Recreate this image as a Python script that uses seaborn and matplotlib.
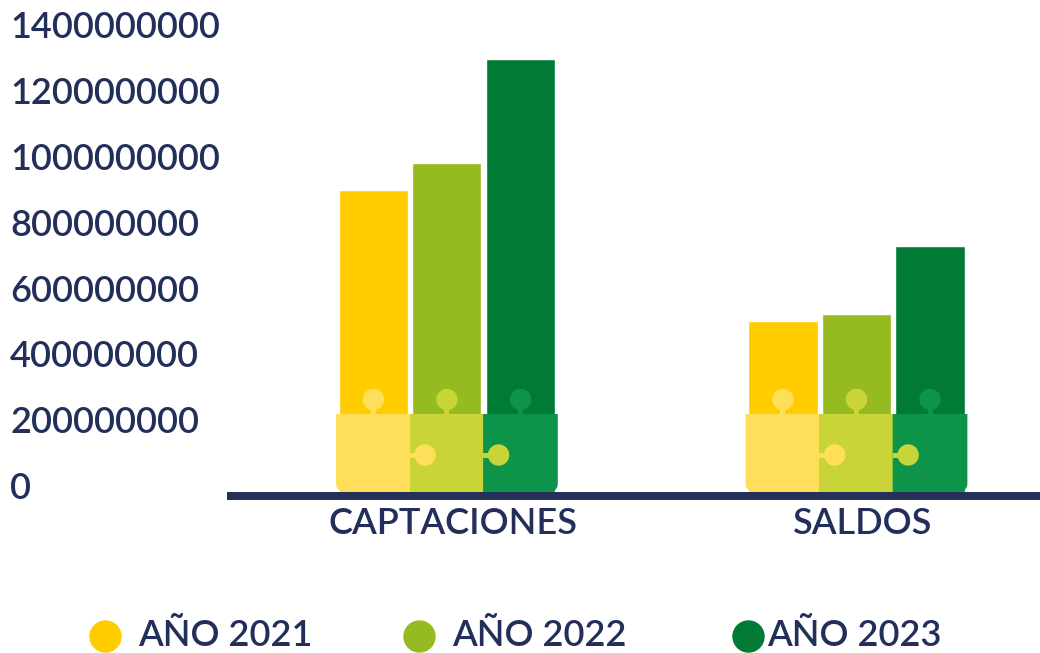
import numpy as np
import pandas as pd
import matplotlib
matplotlib.use("Agg")
import matplotlib.pyplot as plt
import seaborn as sns
from matplotlib.transforms import ScaledTranslation
from matplotlib.patches import Polygon
from matplotlib.lines import Line2D
from matplotlib.ticker import FuncFormatter

# ---------------- data ----------------
categories = ["CAPTACIONES", "SALDOS"]
years = ["AÑO 2021", "AÑO 2022", "AÑO 2023"]
values_2021 = [918e6, 520e6]
values_2022 = [1000e6, 541e6]
values_2023 = [1316e6, 748e6]
y_ticks = [0, 200e6, 400e6, 600e6, 800e6, 1000e6, 1200e6, 1400e6]

# ---------------- style ----------------
bar_colors = ["#FFCC00", "#95BB20", "#007A35"]
piece_colors = ["#FFDF5A", "#C8D438", "#0E944A"]
TEXT = "#232F5B"
AXIS = "#263159"
FONT = "Lato"
WEIGHT = "semibold"

df = pd.DataFrame({
    "cat": categories * 3,
    "year": [years[0]] * 2 + [years[1]] * 2 + [years[2]] * 2,
    "value": values_2021 + values_2022 + values_2023,
})

sns.set_theme(style="white")
plt.rcParams["font.family"] = [FONT, "DejaVu Sans"]
plt.rcParams["font.weight"] = WEIGHT

W, H = 1040, 653
fig = plt.figure(figsize=(W / 100, H / 100), dpi=100)
base_px = 492
top_px = 31.4
ax = fig.add_axes([227 / W, (H - base_px) / H, 1 - 227 / W, (base_px - top_px) / H])

GAP = 0.06
WIDTH = 0.5385
sns.barplot(data=df, x="cat", y="value", hue="year", hue_order=years,
            order=categories, palette=bar_colors, width=WIDTH, gap=GAP,
            saturation=1, legend=False, ax=ax, zorder=2)

ax.set_xlim(-0.537, 1.448)
ax.set_ylim(0, y_ticks[-1])
ax.set_xlabel("")
ax.set_ylabel("")
for s in ["left", "top", "right"]:
    ax.spines[s].set_visible(False)
ax.spines["bottom"].set_color(AXIS)
ax.spines["bottom"].set_linewidth(8 * 0.72)
ax.spines["bottom"].set_position(("outward", 4 * 0.72))
ax.spines["bottom"].set_capstyle("butt")

ax.set_yticks(y_ticks)
ax.yaxis.set_major_formatter(FuncFormatter(lambda v, p: f"{v:.0f}"))
ax.tick_params(axis="y", length=0, pad=217 * 0.72, labelsize=26, labelcolor=TEXT)
for lab in ax.get_yticklabels():
    lab.set_ha("left")
    lab.set_va("center")
    lab.set_fontweight(WEIGHT)
    lab.set_transform(lab.get_transform() + ScaledTranslation(0, 3.5 / 100, fig.dpi_scale_trans))

ax.tick_params(axis="x", length=0, pad=8, labelsize=26, labelcolor=TEXT)
for lab in ax.get_xticklabels():
    lab.set_fontweight(WEIGHT)
    lab.set_transform(lab.get_transform() + ScaledTranslation(6 / 100, 0, fig.dpi_scale_trans))

# ---------------- puzzle decoration (derived from the bars) ----------------
to_data = ax.transData.inverted()


def add_px_poly(verts, color, z):
    v = to_data.transform(np.asarray(verts))
    ax.add_patch(Polygon(v, closed=True, facecolor=color, edgecolor="none", zorder=z))


def circle_px(cx, cy, r, n=60):
    t = np.linspace(0, 2 * np.pi, n, endpoint=False)
    return np.column_stack([cx + r * np.cos(t), cy + r * np.sin(t)])


PIECE_H = 78
R_CORNER = 8
R_KNOB = 10.7
n_h = len(ax.containers)
for i, cont in enumerate(ax.containers):
    for bar in cont:
        cx = bar.get_x() + bar.get_width() / 2
        X, Y0 = ax.transData.transform((cx, 0))
        slot = ax.transData.transform((bar.get_width() / (1 - GAP), 0))[0] - ax.transData.transform((0, 0))[0]
        pw = slot * 1.016
        L, R = X - pw / 2, X + pw / 2
        B, T = Y0, Y0 + PIECE_H
        verts = [(L, T), (R, T)]
        if i == n_h - 1:
            for a in np.linspace(0, -np.pi / 2, 10):
                verts.append((R - R_CORNER + R_CORNER * np.cos(a), B + R_CORNER + R_CORNER * np.sin(a)))
        else:
            verts.append((R, B))
        if i == 0:
            for a in np.linspace(-np.pi / 2, -np.pi, 10):
                verts.append((L + R_CORNER + R_CORNER * np.cos(a), B + R_CORNER + R_CORNER * np.sin(a)))
        else:
            verts.append((L, B))
        col = piece_colors[i]
        add_px_poly(verts, col, 3)
        # top knob
        add_px_poly(circle_px(X, T + 14.5, R_KNOB), col, 4)
        add_px_poly([(X - 2.5, T - 1), (X + 2.5, T - 1), (X + 2.5, T + 6), (X - 2.5, T + 6)], col, 4)
        # side knob
        if i < n_h - 1:
            add_px_poly(circle_px(R + 14.3, B + 37, R_KNOB), col, 5)
            add_px_poly([(R - 1, B + 34.5), (R + 6, B + 34.5), (R + 6, B + 39.5), (R - 1, B + 39.5)], col, 5)

# ---------------- legend ----------------
leg_y = 1 - 636 / H
marker_x = [105, 419, 748]
text_x = [138, 452, 767]
for yr, c, mx, tx in zip(years, bar_colors, marker_x, text_x):
    fig.add_artist(Line2D([mx / W], [leg_y], marker="o", markersize=31 * 0.72,
                          color=c, linestyle="none", transform=fig.transFigure))
    fig.text(tx / W, leg_y, yr, ha="left", va="center", fontsize=26,
             color=TEXT, fontweight=WEIGHT)

fig.savefig("out.png", dpi=100)
